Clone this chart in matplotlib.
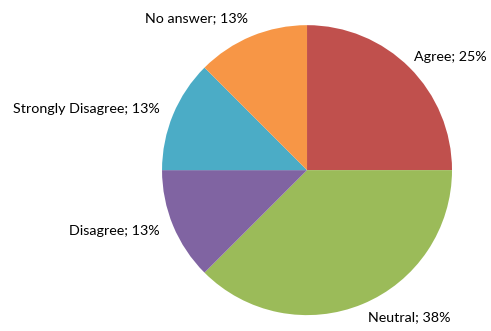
import numpy as np
import matplotlib.pyplot as plt

# answers, share of respondents (3/8 neutral, 2/8 agree, 1/8 each other)
categories = ['Agree', 'Neutral', 'Disagree', 'Strongly Disagree', 'No answer']
shares = [25, 37.5, 12.5, 12.5, 12.5]
pct_labels = ['25%', '38%', '13%', '13%', '13%']
colors = ['#C0504D', '#9BBB59', '#8064A2', '#4BACC6', '#F79646']

plt.rcParams['font.family'] = ['Lato', 'DejaVu Sans']

fig = plt.figure(figsize=(4.91, 3.31), dpi=100, facecolor='white')
ax = fig.add_axes([0.33, 0.048, 0.5906, 0.876])

labels = [c + '; ' + p for c, p in zip(categories, pct_labels)]
wedges, texts = ax.pie(shares, colors=colors, startangle=90, counterclock=False,
                       labels=labels, labeldistance=1.1,
                       wedgeprops=dict(linewidth=0),
                       textprops=dict(fontsize=10.3, color='black'))
ax.set_xlim(-1, 1)
ax.set_ylim(-1, 1)

# nudge labels toward where excel put them
x, y = texts[0].get_position()
texts[0].set_position((x - 0.04, y))
texts[4].set_horizontalalignment('center')
x, y = texts[4].get_position()
texts[4].set_position((x - 0.34, y + 0.03))

fig.savefig('out.png', dpi=100)
